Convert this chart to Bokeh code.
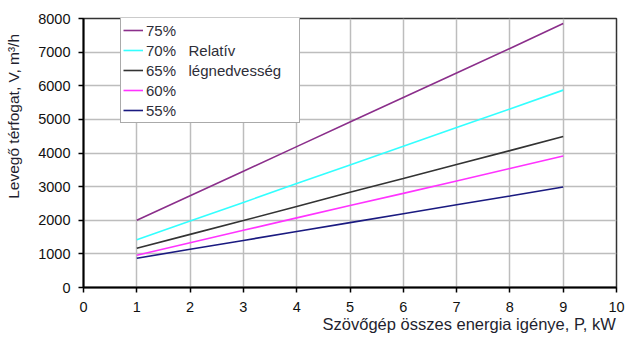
import math
from bokeh.plotting import figure
from bokeh.models import Legend, LegendItem, FixedTicker, Range1d
from bokeh.embed import file_html
from bokeh.resources import INLINE

# ---- data ----
power_kw = [1, 2, 3, 4, 5, 6, 7, 8, 9]
v75 = [2000, 2730, 3460, 4190, 4920, 5650, 6380, 7110, 7850]
v70 = [1420, 1975, 2530, 3090, 3645, 4200, 4760, 5310, 5870]
v65 = [1170, 1580, 1990, 2410, 2830, 3240, 3660, 4070, 4490]
v60 = [960, 1330, 1700, 2070, 2440, 2800, 3170, 3540, 3910]
v55 = [870, 1135, 1400, 1665, 1930, 2195, 2460, 2720, 2990]

series_labels = ["75%", "70%", "65%", "60%", "55%"]
series_values = [v75, v70, v65, v60, v55]
series_colors = ["#8b2f8b", "#33ffff", "#333333", "#ff33ff", "#1a1a80"]

x_ticks = list(range(0, 11))
y_ticks = list(range(0, 8001, 1000))

x_title = "Szövőgép összes energia igénye, P, kW"
y_title = "Levegő térfogat, V, m³/h"
legend_note = ["", "Relatív", "légnedvesség", "", ""]   # note printed beside the legend rows

FONT = "Liberation Sans"
NB = "\u00a0"

p = figure(width=625, height=338, output_backend="svg", toolbar_location=None,
           x_range=Range1d(0, 10), y_range=Range1d(0, 8000),
           min_border_left=83, min_border_right=9, min_border_top=18, min_border_bottom=51)
p.background_fill_color = "white"
p.border_fill_color = "white"
p.outline_line_color = "#333333"
p.outline_line_width = 1.5

for ax in (p.xaxis[0], p.yaxis[0]):
    ax.axis_line_color = "black"
    ax.axis_line_width = 2
    ax.major_tick_line_color = "black"
    ax.major_tick_line_width = 1.5
    ax.major_tick_in = 0
    ax.major_tick_out = 5
    ax.minor_tick_line_color = None
    ax.major_label_text_font = FONT
    ax.major_label_text_font_size = "14.5px"
    ax.major_label_text_color = "#111111"
    ax.axis_label_text_font = FONT
    ax.axis_label_text_font_style = "normal"
    ax.axis_label_text_color = "#1f1f2f"

p.xaxis[0].ticker = FixedTicker(ticks=x_ticks)
p.yaxis[0].ticker = FixedTicker(ticks=y_ticks)
p.xaxis[0].major_label_standoff = 9
p.yaxis[0].major_label_standoff = 8
p.xaxis[0].axis_label_standoff = 0
p.yaxis[0].axis_label_standoff = 13
p.xaxis[0].axis_label_text_font_size = "16.5px"
p.yaxis[0].axis_label_text_font_size = "15.5px"

# titles are centred by Bokeh; non-breaking spaces shift them to the reference position
p.xaxis[0].axis_label = NB * 52 + x_title
p.yaxis[0].axis_label = NB * 17 + y_title

p.xgrid.grid_line_color = "#bdbdbd"
p.xgrid.grid_line_width = 1.5
p.ygrid.grid_line_color = "#bdbdbd"
p.ygrid.grid_line_width = 1.5

items = []
for lab, note, vals, col in zip(series_labels, legend_note, series_values, series_colors):
    r = p.line(power_kw, vals, line_color=col, line_width=1.6)
    text = lab + (NB * 3 + note if note else "")
    items.append(LegendItem(label=text, renderers=[r]))

legend = Legend(items=items, location=(37, 164), orientation="vertical",
                label_text_font=FONT, label_text_font_size="15px",
                label_text_color="#2e2e38", label_height=20, glyph_height=20,
                glyph_width=20, label_standoff=3, label_width=151,
                spacing=0, padding=2, margin=0,
                border_line_color="#555555", border_line_width=1,
                background_fill_color="white", background_fill_alpha=1.0)
p.add_layout(legend, "center")

open("out.html", "w").write(file_html(p, INLINE))
